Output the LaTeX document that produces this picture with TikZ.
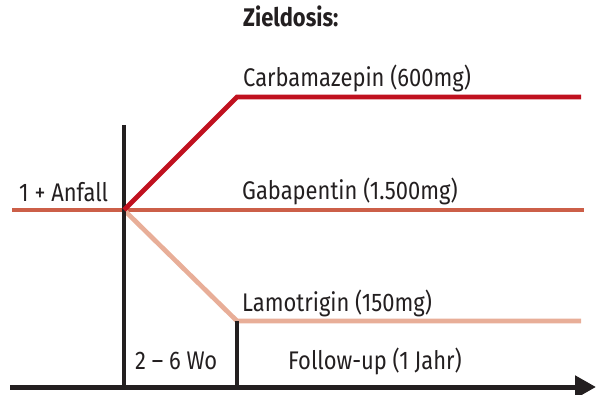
\documentclass[tikz,border=0pt]{standalone}
\usepackage{fontspec}
\setmainfont[FakeStretch=0.86]{Fira Sans}
\usetikzlibrary{arrows.meta}
\definecolor{cred}{HTML}{C0111F}
\definecolor{cmid}{HTML}{CC5F48}
\definecolor{clight}{HTML}{E8AE98}
\definecolor{cblack}{HTML}{231F20}
\begin{document}
\begin{tikzpicture}[x=1pt,y=-1pt,
  lbl/.style={anchor=base west,inner sep=0pt,text=cblack,font=\fontsize{25.5}{28}\selectfont},
  dline/.style={line width=4.7pt},
  bline/.style={draw=cblack,line width=4.2pt}]
\useasboundingbox (0,0) rectangle (596,395);
% coordinates
\coordinate (o) at (124,210);
\coordinate (vtop) at (124,125);
\coordinate (vbot) at (124,387);
\coordinate (ctop) at (237,97);
\coordinate (cend) at (581,97);
\coordinate (gstart) at (12,210);
\coordinate (gend) at (584,210);
\coordinate (lbend) at (237,321);
\coordinate (lend) at (581,321);
\coordinate (v2bot) at (237,387);
\coordinate (axs) at (10,387);
\coordinate (axe) at (596,387);
% lines
\draw[dline,draw=cmid] (gstart) -- (gend);
\draw[dline,draw=clight] (o) -- (lbend) -- (lend);
\draw[bline] (lbend) -- (v2bot);
\draw[bline] (vtop) -- (vbot);
\draw[dline,draw=cred,line join=miter] (o) -- (ctop) -- (cend);
\draw[draw=cblack,line width=5pt,-{Triangle[length=21pt,width=22pt]}] (axs) -- (axe);
% labels
\node[lbl,font=\fontsize{25.5}{28}\selectfont\bfseries] (zd) at (243,27) {Zieldosis:};
\node[lbl] (carb) at (243,87) {Carbamazepin (600mg)};
\node[lbl] (gaba) at (242,200) {Gabapentin (1.500mg)};
\node[lbl] (lamo) at (242,311) {Lamotrigin (150mg)};
\node[lbl] (anf) at (19,201) {1 + Anfall};
\node[lbl] (wo) at (135,369) {2 -- 6 Wo};
\node[lbl] (fu) at (288,369) {Follow-up (1 Jahr)};
\end{tikzpicture}
\end{document}
